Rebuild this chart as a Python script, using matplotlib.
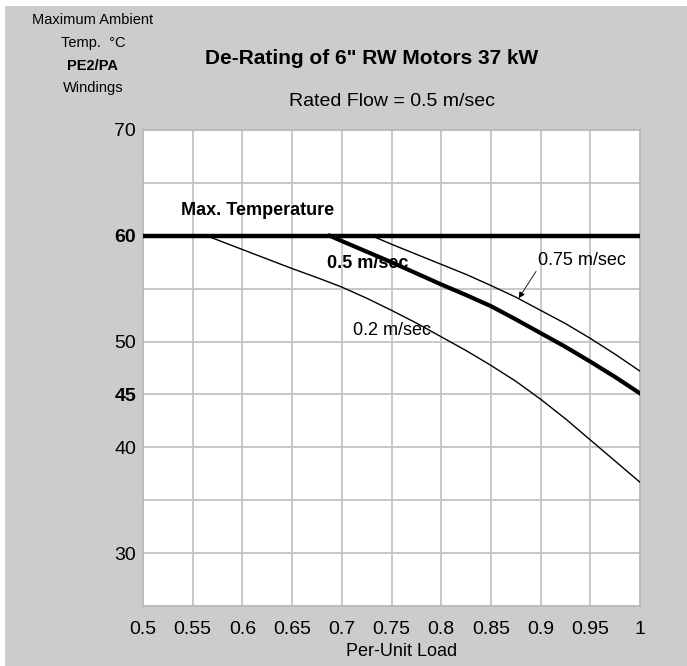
import matplotlib.pyplot as plt
from matplotlib.patches import Rectangle

plt.rcParams['font.family'] = ['Liberation Sans', 'DejaVu Sans']

# load (per unit) vs max ambient temperature
load_02 = [0.564, 0.6, 0.625, 0.65, 0.675, 0.7, 0.725, 0.75, 0.775, 0.8,
           0.825, 0.85, 0.875, 0.9, 0.925, 0.95, 0.975, 1.0]
temp_02 = [60, 58.7, 57.8, 56.9, 56.05, 55.15, 54.1, 52.95, 51.75, 50.45,
           49.15, 47.75, 46.25, 44.55, 42.7, 40.7, 38.7, 36.7]

load_05 = [0.688, 0.7, 0.725, 0.75, 0.775, 0.8, 0.825, 0.85, 0.875, 0.9, 0.925,
           0.95, 0.975, 1.0]
temp_05 = [60, 59.5, 58.5, 57.5, 56.45, 55.4, 54.4, 53.35, 52.1, 50.8, 49.5,
           48.1, 46.65, 45.1]

load_075 = [0.730, 0.75, 0.775, 0.8, 0.825, 0.85, 0.875, 0.9, 0.925, 0.95, 0.975, 1.0]
temp_075 = [60, 59.2, 58.25, 57.3, 56.35, 55.3, 54.2, 52.95, 51.7, 50.3, 48.8, 47.2]

max_temp = 60
x_ticks = [0.5, 0.55, 0.6, 0.65, 0.7, 0.75, 0.8, 0.85, 0.9, 0.95, 1]
x_tick_labels = ['0.5', '0.55', '0.6', '0.65', '0.7', '0.75', '0.8', '0.85', '0.9', '0.95', '1']
y_ticks = [30, 40, 45, 50, 60, 70]
y_bold = [45, 60]

bg = '#cccccc'
grid_col = '#c4c4c4'

fig = plt.figure(figsize=(6.87, 6.66), dpi=100, facecolor='white')
fig.patches.append(Rectangle((5 / 687, 0), 1, 1 - 6 / 666, transform=fig.transFigure,
                             facecolor=bg, edgecolor='none', zorder=-10))

ax = fig.add_axes([143 / 687, 1 - 606 / 666, 497 / 687, 476 / 666])
ax.set_facecolor('white')
ax.set_xlim(0.5, 1.0)
ax.set_ylim(25, 70)

for gx in x_ticks[1:-1]:
    ax.axvline(gx, color=grid_col, lw=1.3, zorder=1)
for gy in range(30, 70, 5):
    ax.axhline(gy, color=grid_col, lw=1.3, zorder=1)

for s in ax.spines.values():
    s.set_color('#b8b8b8')
    s.set_linewidth(1.3)

ax.plot([0.5, 1.0], [max_temp, max_temp], color='black', lw=3.2, zorder=3)
ax.plot(load_02, temp_02, color='black', lw=1.0, zorder=3)
ax.plot(load_075, temp_075, color='black', lw=1.0, zorder=3)
ax.plot(load_05, temp_05, color='black', lw=3.0, zorder=3)

ax.set_xticks(x_ticks)
ax.set_xticklabels(x_tick_labels)
ax.set_yticks(y_ticks)
ax.set_yticklabels([str(v) for v in y_ticks])
ax.tick_params(length=0, labelsize=14)
ax.tick_params(axis='x', pad=11)
ax.tick_params(axis='y', pad=5)
for lab in ax.get_yticklabels():
    if int(lab.get_text()) in y_bold:
        lab.set_fontweight('bold')

ax.text(0.538, 62.4, 'Max. Temperature', fontsize=13, fontweight='bold', va='center', zorder=4)
ax.text(0.685, 57.4, '0.5 m/sec', fontsize=13, fontweight='bold', va='center', zorder=4)
ax.text(0.711, 51.0, '0.2 m/sec', fontsize=13, va='center', zorder=4)
ax.annotate('0.75 m/sec', xy=(0.878, 54.1), xytext=(0.897, 57.7), fontsize=13,
            va='center', ha='left', zorder=4,
            arrowprops=dict(arrowstyle='-|>', color='black', lw=0.6,
                            mutation_scale=9, shrinkA=0, shrinkB=0,
                            relpos=(0.04, 0.3)))

ax.set_xlabel('Per-Unit Load', fontsize=13)
ax.xaxis.set_label_coords(0.52, -0.078)

fig.text(372 / 687, 1 - 59 / 666, 'De-Rating of 6" RW Motors 37 kW', fontsize=15,
         fontweight='bold', ha='center', va='center')
fig.text(392 / 687, 1 - 101 / 666, 'Rated Flow = 0.5 m/sec', fontsize=14,
         ha='center', va='center')

side = ['Maximum Ambient', 'Temp.  °C', 'PE2/PA', 'Windings']
side_y = [20, 43, 66, 88]
for t, yy in zip(side, side_y):
    fig.text(93 / 687, 1 - yy / 666, t, fontsize=10.5, ha='center', va='center',
             fontweight='bold' if t == 'PE2/PA' else 'normal')

fig.savefig('out.png', dpi=100, facecolor=fig.get_facecolor())
